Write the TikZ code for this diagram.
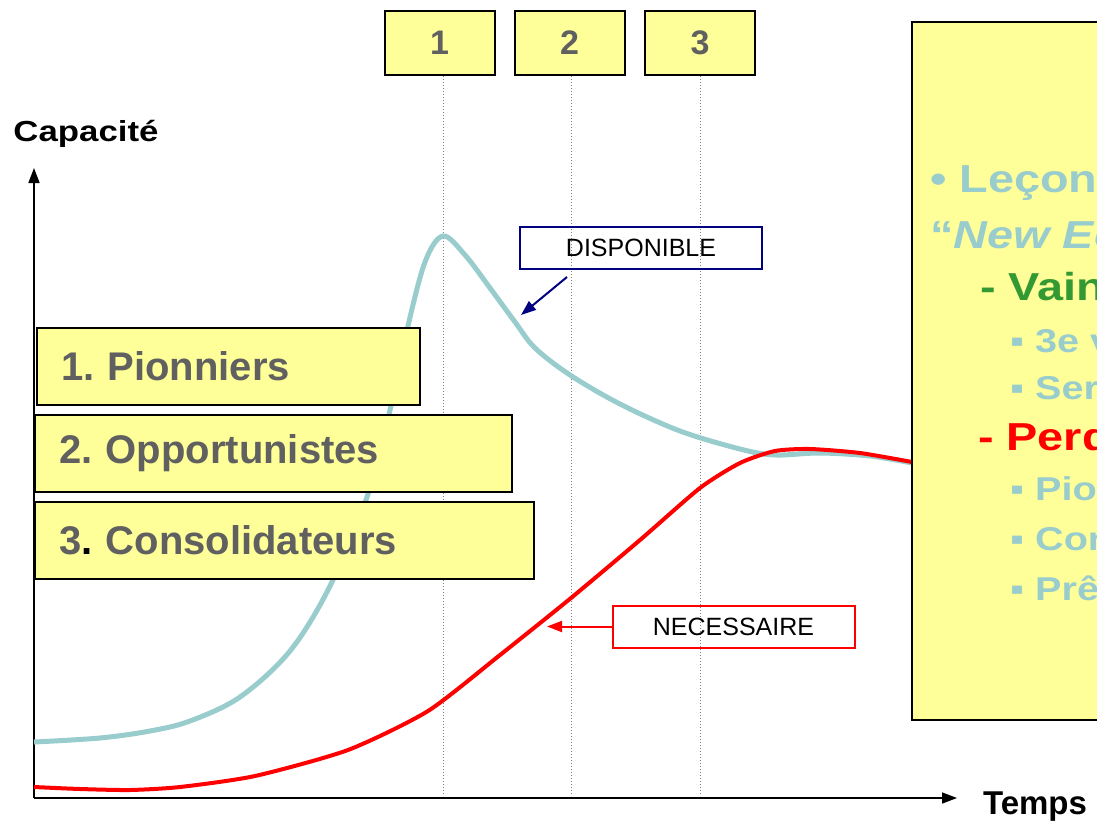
\documentclass[tikz,border=0pt]{standalone}
\usepackage{fontspec}
\setmainfont{Liberation Sans}
\usetikzlibrary{arrows.meta}

\definecolor{boxyellow}{HTML}{FFFF99}
\definecolor{boxtext}{HTML}{606060}
\definecolor{dispoteal}{HTML}{99CCCC}
\definecolor{winner}{HTML}{339933}
\definecolor{navyblue}{HTML}{000080}
\newcommand{\px}[1]{\fontsize{#1}{#1}\selectfont}
\newcommand{\wide}[1]{\scalebox{1.2}[1]{#1}}
\frenchspacing

\begin{document}
\begin{tikzpicture}[x=1pt, y=-1pt, >={Triangle[length=15pt,width=11pt]},
  topbox/.style={draw=black, line width=2pt, fill=boxyellow, minimum width=110pt, minimum height=64pt, inner sep=0pt, text=boxtext, font=\bfseries\px{34}},
  phasebox/.style={draw=black, line width=2pt, fill=boxyellow, minimum height=77pt, anchor=west, inner xsep=24pt, inner ysep=0pt, align=left, text=boxtext, font=\bfseries\px{40}},
  curvelabel/.style={line width=2pt, minimum width=242pt, minimum height=42pt, inner sep=0pt, font=\px{25}},
  lesson/.style={anchor=base west, inner sep=0pt, text=dispoteal, font=\bfseries\px{39}},
  sublesson/.style={lesson, font=\bfseries\px{33}},
  guide/.style={gray, line width=1pt, dash pattern=on 1pt off 2pt},
  axis/.style={->, line width=1.5pt}]

\useasboundingbox (0,0) rectangle (1097,827);

% phases
\foreach \i/\x/\g in {1/439.5/443,2/569.5/571,3/700/700} {
  \node[topbox] (t\i) at (\x,43) {\i};
  \draw[guide] (\g,76) -- (\g,795);
}

% axes
\coordinate (origin) at (34,798);
\coordinate (ytip) at (34,168);
\coordinate (xtip) at (957,798);
\draw[axis] (origin) -- (ytip);
\draw[axis] (origin) -- (xtip);
\node[anchor=base, inner sep=0pt, font=\bfseries\px{29}] (ylabel) at (86,141) {\wide{Capacité}};
\node[anchor=base, inner sep=0pt, font=\bfseries\px{33}] (xlabel) at (1035,814) {Temps};

% curves
\draw[dispoteal, line width=5pt] plot[smooth, tension=0.55] coordinates {(34,742) (100,738) (150,731) (190,721) (240,697) (290,651) (330,586) (367,497) (390,410) (407,330) (425,262) (443,236) (465,255) (490,288) (515,322) (535,348) (570,375) (620,404) (680,431) (740,449) (775,455) (820,453) (870,456) (912,463)};
\draw[red, line width=4pt] plot[smooth, tension=0.4] coordinates {(34,787) (80,789) (130,790) (180,787) (255,776) (348,750) (428,711) (500,655) (571,598) (640,540) (700,488) (740,463) (775,451) (810,449) (860,453) (912,462)};

% players
\node[phasebox, text width=335pt] (p1) at (36,366.5) {1. Pionniers};
\node[phasebox, text width=429pt] (p2) at (34,453.5) {2. Opportunistes};
\node[phasebox, text width=451pt] (p3) at (34,540.5) {3{\color{black}.} Consolidateurs};

% curve labels
\node[curvelabel, draw=navyblue] (dispo) at (641,248) {DISPONIBLE};
\coordinate (dispotail) at (567,277);
\coordinate (dispotip) at (521,315);
\draw[->, navyblue, line width=2pt] (dispotail) -- (dispotip);
\node[curvelabel, draw=red] (necess) at (733.5,626.5) {NECESSAIRE};
\coordinate (necesstip) at (547,626.5);
\draw[->, red, line width=2pt] (necess.west) -- (necesstip);

% lessons
\draw[line width=2pt, fill=boxyellow] (912,22) rectangle (1140,720);
\node[lesson] (lecon) at (930,192) {\wide{• Leçons de la}};
\node[lesson] (neweco) at (930,248) {\wide{“\textit{New Economy}”}};
\node[lesson, text=winner] (vain) at (980,300) {\wide{- Vainqueurs}};
\node[sublesson] (vague) at (1010,352) {\wide{▪ 3e vague}};
\node[sublesson] (serv) at (1010,399) {\wide{▪ Services}};
\node[lesson, text=red] (perd) at (978,450) {\wide{- Perdants}};
\node[sublesson] (pio) at (1010,500) {\wide{▪ Pionniers}};
\node[sublesson] (cor) at (1010,550) {\wide{▪ Corporates}};
\node[sublesson] (pret) at (1010,600) {\wide{▪ Prêteurs}};
\end{tikzpicture}
\end{document}
